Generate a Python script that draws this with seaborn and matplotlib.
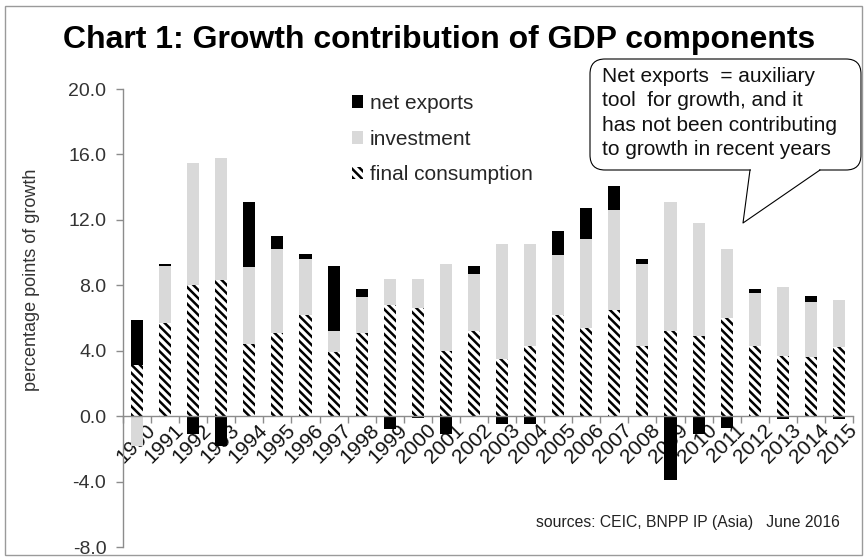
import numpy as np
import pandas as pd
import matplotlib.pyplot as plt
import matplotlib.transforms as mtransforms
from matplotlib.patches import FancyBboxPatch, Rectangle
from matplotlib.lines import Line2D
import seaborn as sns

# --- data (percentage points of growth) ---
years = [str(y) for y in range(1990, 2016)]
final_consumption = [3.1, 5.7, 8.0, 8.3, 4.4, 5.1, 6.2, 3.9, 5.1, 6.8, 6.6, 4.0, 5.2,
                     3.5, 4.3, 6.2, 5.4, 6.5, 4.3, 5.2, 4.9, 6.0, 4.3, 3.7, 3.6, 4.2]
investment = [-1.8, 3.5, 7.5, 7.5, 4.7, 5.1, 3.4, 1.3, 2.2, 1.6, 1.8, 5.3, 3.5,
              7.0, 6.2, 3.65, 5.4, 6.1, 5.0, 7.9, 6.9, 4.2, 3.2, 4.2, 3.35, 2.9]
net_exports = [2.8, 0.1, -1.1, -1.8, 4.0, 0.8, 0.3, 4.0, 0.5, -0.8, -0.1, -1.1, 0.45,
               -0.5, -0.45, 1.45, 1.9, 1.5, 0.3, -3.9, -1.1, -0.7, 0.25, -0.15, 0.4, -0.2]

sns.set_theme(style="white")
plt.rcParams["font.family"] = ["Liberation Sans", "DejaVu Sans"]
plt.rcParams["hatch.linewidth"] = 1.8

fig = plt.figure(figsize=(8.64, 5.57), dpi=100)
ax = fig.add_axes([123 / 864, 1 - 547 / 557, 730 / 864, 458 / 557])

# --- stacked bars, positives up / negatives down ---
series = [
    ("final consumption", final_consumption, dict(color="white", edgecolor="black", hatch="\\\\\\\\", linewidth=0)),
    ("investment", investment, dict(color="#d9d9d9", linewidth=0)),
    ("net exports", net_exports, dict(color="black", linewidth=0)),
]
pos_base = np.zeros(len(years))
neg_base = np.zeros(len(years))
for name, vals, style in series:
    vals = np.array(vals)
    bottom = np.where(vals >= 0, pos_base, neg_base)
    df = pd.DataFrame({"year": years, "value": vals})
    sns.barplot(data=df, x="year", y="value", bottom=bottom, width=0.43,
                errorbar=None, label=name, ax=ax, **style)
    pos_base = pos_base + np.clip(vals, 0, None)
    neg_base = neg_base + np.clip(vals, None, 0)

# --- axes styling ---
ax.set_xlim(-0.5, len(years) - 0.5)
ax.set_ylim(-8, 20)
ax.set_yticks(np.arange(-8, 21, 4))
ax.set_yticklabels([f"{v:.1f}" for v in np.arange(-8, 21, 4)])
for s in ["top", "right"]:
    ax.spines[s].set_visible(False)
ax.spines["bottom"].set_position(("data", 0))
for s in ["left", "bottom"]:
    ax.spines[s].set_color("#8c8c8c")
    ax.spines[s].set_linewidth(1.0)

ax.set_xlabel("")
ax.set_ylabel("percentage points of growth", fontsize=13, color="#333333")
ax.yaxis.set_label_coords(-0.114, 0.583)

ax.tick_params(axis="y", direction="out", length=5, width=1, color="#8c8c8c",
               labelsize=14, labelcolor="#333333", pad=7, left=True)
ax.set_xticks(range(len(years)))
ax.set_xticklabels(years, rotation=45, ha="right", rotation_mode="anchor")
ax.set_xticks(np.arange(-0.5, len(years), 1), minor=True)
ax.tick_params(axis="x", which="major", length=0, pad=3, labelsize=15, labelcolor="#111111")
ax.tick_params(axis="x", which="minor", direction="out", length=5, width=1,
               color="#8c8c8c", bottom=True)
offset = mtransforms.ScaledTranslation(6 / 72, 0, fig.dpi_scale_trans)
for lbl in ax.get_xticklabels():
    lbl.set_transform(lbl.get_transform() + offset)

# --- legend ---
handles, labels = ax.get_legend_handles_labels()
ax.legend(handles[::-1], labels[::-1], loc="upper left",
          bbox_to_anchor=(352 / 864, 1 - 94 / 557), bbox_transform=fig.transFigure,
          frameon=False, fontsize=15, handlelength=0.55, handleheight=0.55,
          handletextpad=0.3, labelspacing=0.8, borderaxespad=0, borderpad=0)

# --- title, callout, source ---
fig.text(0.508, 0.928, "Chart 1: Growth contribution of GDP components",
         ha="center", va="center", fontsize=23, fontweight="bold", color="black")

tr = fig.dpi_scale_trans
box = FancyBboxPatch((5.90, 3.87), 2.71, 1.11, boxstyle="round,pad=0,rounding_size=0.15",
                     transform=tr, facecolor="white", edgecolor="black", linewidth=0.8)
fig.patches.append(box)
fig.patches.append(Rectangle((7.51, 3.85), 0.68, 0.04, transform=tr,
                             facecolor="white", edgecolor="none"))
fig.lines.append(Line2D([7.50, 7.43, 8.20], [3.87, 3.34, 3.87], transform=tr,
                        color="black", linewidth=0.8))
fig.text(6.02 / 8.64, 1 - 67 / 557,
         "Net exports  = auxiliary\ntool  for growth, and it\nhas not been contributing\nto growth in recent years",
         ha="left", va="top", fontsize=15, linespacing=1.36, color="#111111")

fig.text(840 / 864, 1 - 522 / 557, "sources: CEIC, BNPP IP (Asia)   June 2016",
         ha="right", va="center", fontsize=11.3, color="#222222")

# --- outer frame ---
fig.patches.append(Rectangle((5 / 864, 2 / 557), 857 / 864, 549 / 557, transform=fig.transFigure,
                             facecolor="none", edgecolor="#9a9a9a", linewidth=1))

plt.savefig("out.png", dpi=100)
